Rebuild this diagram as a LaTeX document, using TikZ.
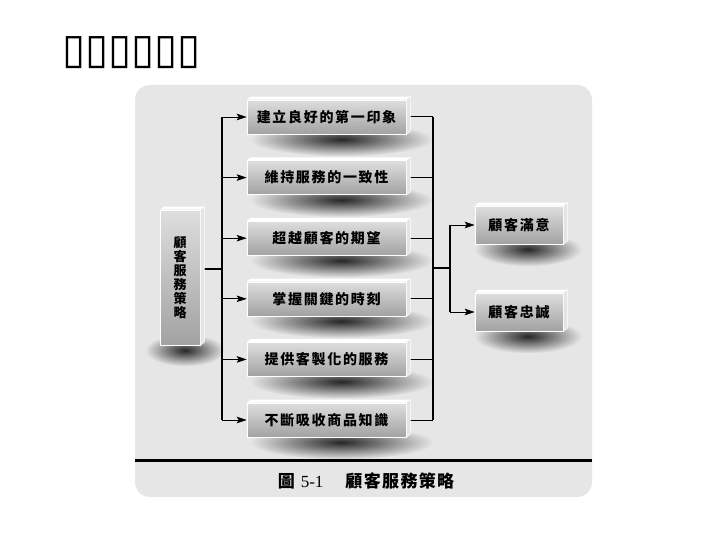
\documentclass[tikz,border=0pt]{standalone}
\usepackage{fontspec}
\newfontfamily\cjk[LetterSpace=12]{Noto Sans CJK TC}
\newfontfamily\cjkcap[LetterSpace=8]{Noto Sans CJK TC}
\newfontfamily\dv{DejaVu Sans}
\newfontfamily\lserif{Liberation Serif}
\usetikzlibrary{arrows.meta,calc}
\pgfdeclarelayer{shadowlayer}
\pgfdeclarelayer{lines}
\pgfdeclarelayer{bg}
\pgfsetlayers{bg,shadowlayer,lines,main}
\definecolor{panel}{HTML}{E6E6E6}
\definecolor{boxtop}{HTML}{DEDEDE}
\definecolor{boxbot}{HTML}{A2A2A2}
\definecolor{sidecol}{HTML}{E4E4E4}
\tikzset{
  cbox/.style={rectangle, inner sep=0pt, top color=boxtop, bottom color=boxbot,
    draw=white, line width=0.6pt, text=black, font=\cjk\bfseries\fontsize{14}{16}\selectfont},
  midbox/.style={cbox, minimum width=159pt, minimum height=34pt},
  rbox/.style={cbox, minimum width=88pt, minimum height=38pt},
  arr/.style={-{Stealth[length=10pt,width=6.5pt,inset=2pt]}, line width=0.8pt},
  trunk/.style={line width=1.3pt},
  rtrunk/.style={line width=1.8pt},
  branch/.style={line width=1pt}
}
\newcommand\boxfaces[1]{%
  \fill[white] (#1.north west) -- ++(4,-3) -- ($(#1.north east)+(4,-3)$) -- (#1.north east) -- cycle;
  \filldraw[fill=sidecol, draw=white, line width=0.5pt] (#1.north east) -- ++(4,-3) -- ($(#1.south east)+(4,-3)$) -- (#1.south east) -- cycle;
}
\newcommand\mkshadow[4]{%
  \begin{pgfonlayer}{shadowlayer}
  \shade[inner color=black!85, outer color=panel] ($(#1.south)+(#4,5)$) ellipse [x radius=#2, y radius=#3];
  \end{pgfonlayer}
}
\begin{document}
\begin{tikzpicture}[x=1pt,y=-1pt]
\useasboundingbox (0,0) rectangle (720,540);
\begin{pgfonlayer}{bg}
\fill[white] (0,0) rectangle (720,540);
\fill[panel, rounded corners=15pt] (135,85) rectangle (592,497);
\end{pgfonlayer}

% title
\node[anchor=west, inner sep=0pt, font=\dv\bfseries\fontsize{42}{42}\selectfont] (title) at (62,53) {▯▯▯▯▯▯};

% left box
\node[cbox, minimum width=40pt, minimum height=135pt, align=center,
  font=\cjk\bfseries\fontsize{13}{14}\selectfont] (lb) at (180,277.5) {顧\\客\\服\\務\\策\\略};

% middle boxes
\node[midbox] (m1) at (326.5,117) {建立良好的第一印象};
\node[midbox] (m2) at (326.5,177.6) {維持服務的一致性};
\node[midbox] (m3) at (326.5,238.2) {超越顧客的期望};
\node[midbox] (m4) at (326.5,298.8) {掌握關鍵的時刻};
\node[midbox] (m5) at (326.5,359.4) {提供客製化的服務};
\node[midbox] (m6) at (326.5,420) {不斷吸收商品知識};

% right boxes
\node[rbox] (r1) at (519,225) {顧客滿意};
\node[rbox] (r2) at (519,312) {顧客忠誠};

\foreach \n in {lb,m1,m2,m3,m4,m5,m6,r1,r2} {\boxfaces{\n}}

\mkshadow{lb}{40}{16}{5}
\foreach \n in {m1,m2,m3,m4,m5,m6} {\mkshadow{\n}{92}{17}{15}}
\mkshadow{r1}{54}{17}{9}
\mkshadow{r2}{54}{17}{9}

\coordinate (tL) at (222,269);
\coordinate (tR) at (433,268);
\coordinate (tB) at (450,268);

\begin{pgfonlayer}{lines}
\draw[trunk] (lb.east |- tL) -- (tL);
\draw[trunk] (tL |- m1) -- (tL |- m6);
\foreach \n in {m1,m2,m3,m4,m5,m6} {
  \draw[arr] (tL |- \n) -- (\n.west);
  \draw[branch] (\n.east) -- (tR |- \n);
}
\draw[rtrunk] (tR |- m1) -- (tR |- m6);
\draw[rtrunk] (tR) -- (tB);
\draw[rtrunk] (tB |- r1) -- (tB |- r2);
\draw[arr] (tB |- r1) -- (r1.west);
\draw[arr] (tB |- r2) -- (r2.west);
\end{pgfonlayer}

% caption
\coordinate (cl) at (135,460);
\coordinate (cr) at (592,460);
\draw[line width=3pt] (cl) -- (cr);
\node[font=\cjkcap\bfseries\fontsize{17}{17}\selectfont, inner sep=0pt] (cap) at (366,481)
  {圖\hspace{6pt}{\lserif\mdseries\fontsize{17}{17}\selectfont 5-1}\hspace{22pt}顧客服務策略};
\end{tikzpicture}
\end{document}
